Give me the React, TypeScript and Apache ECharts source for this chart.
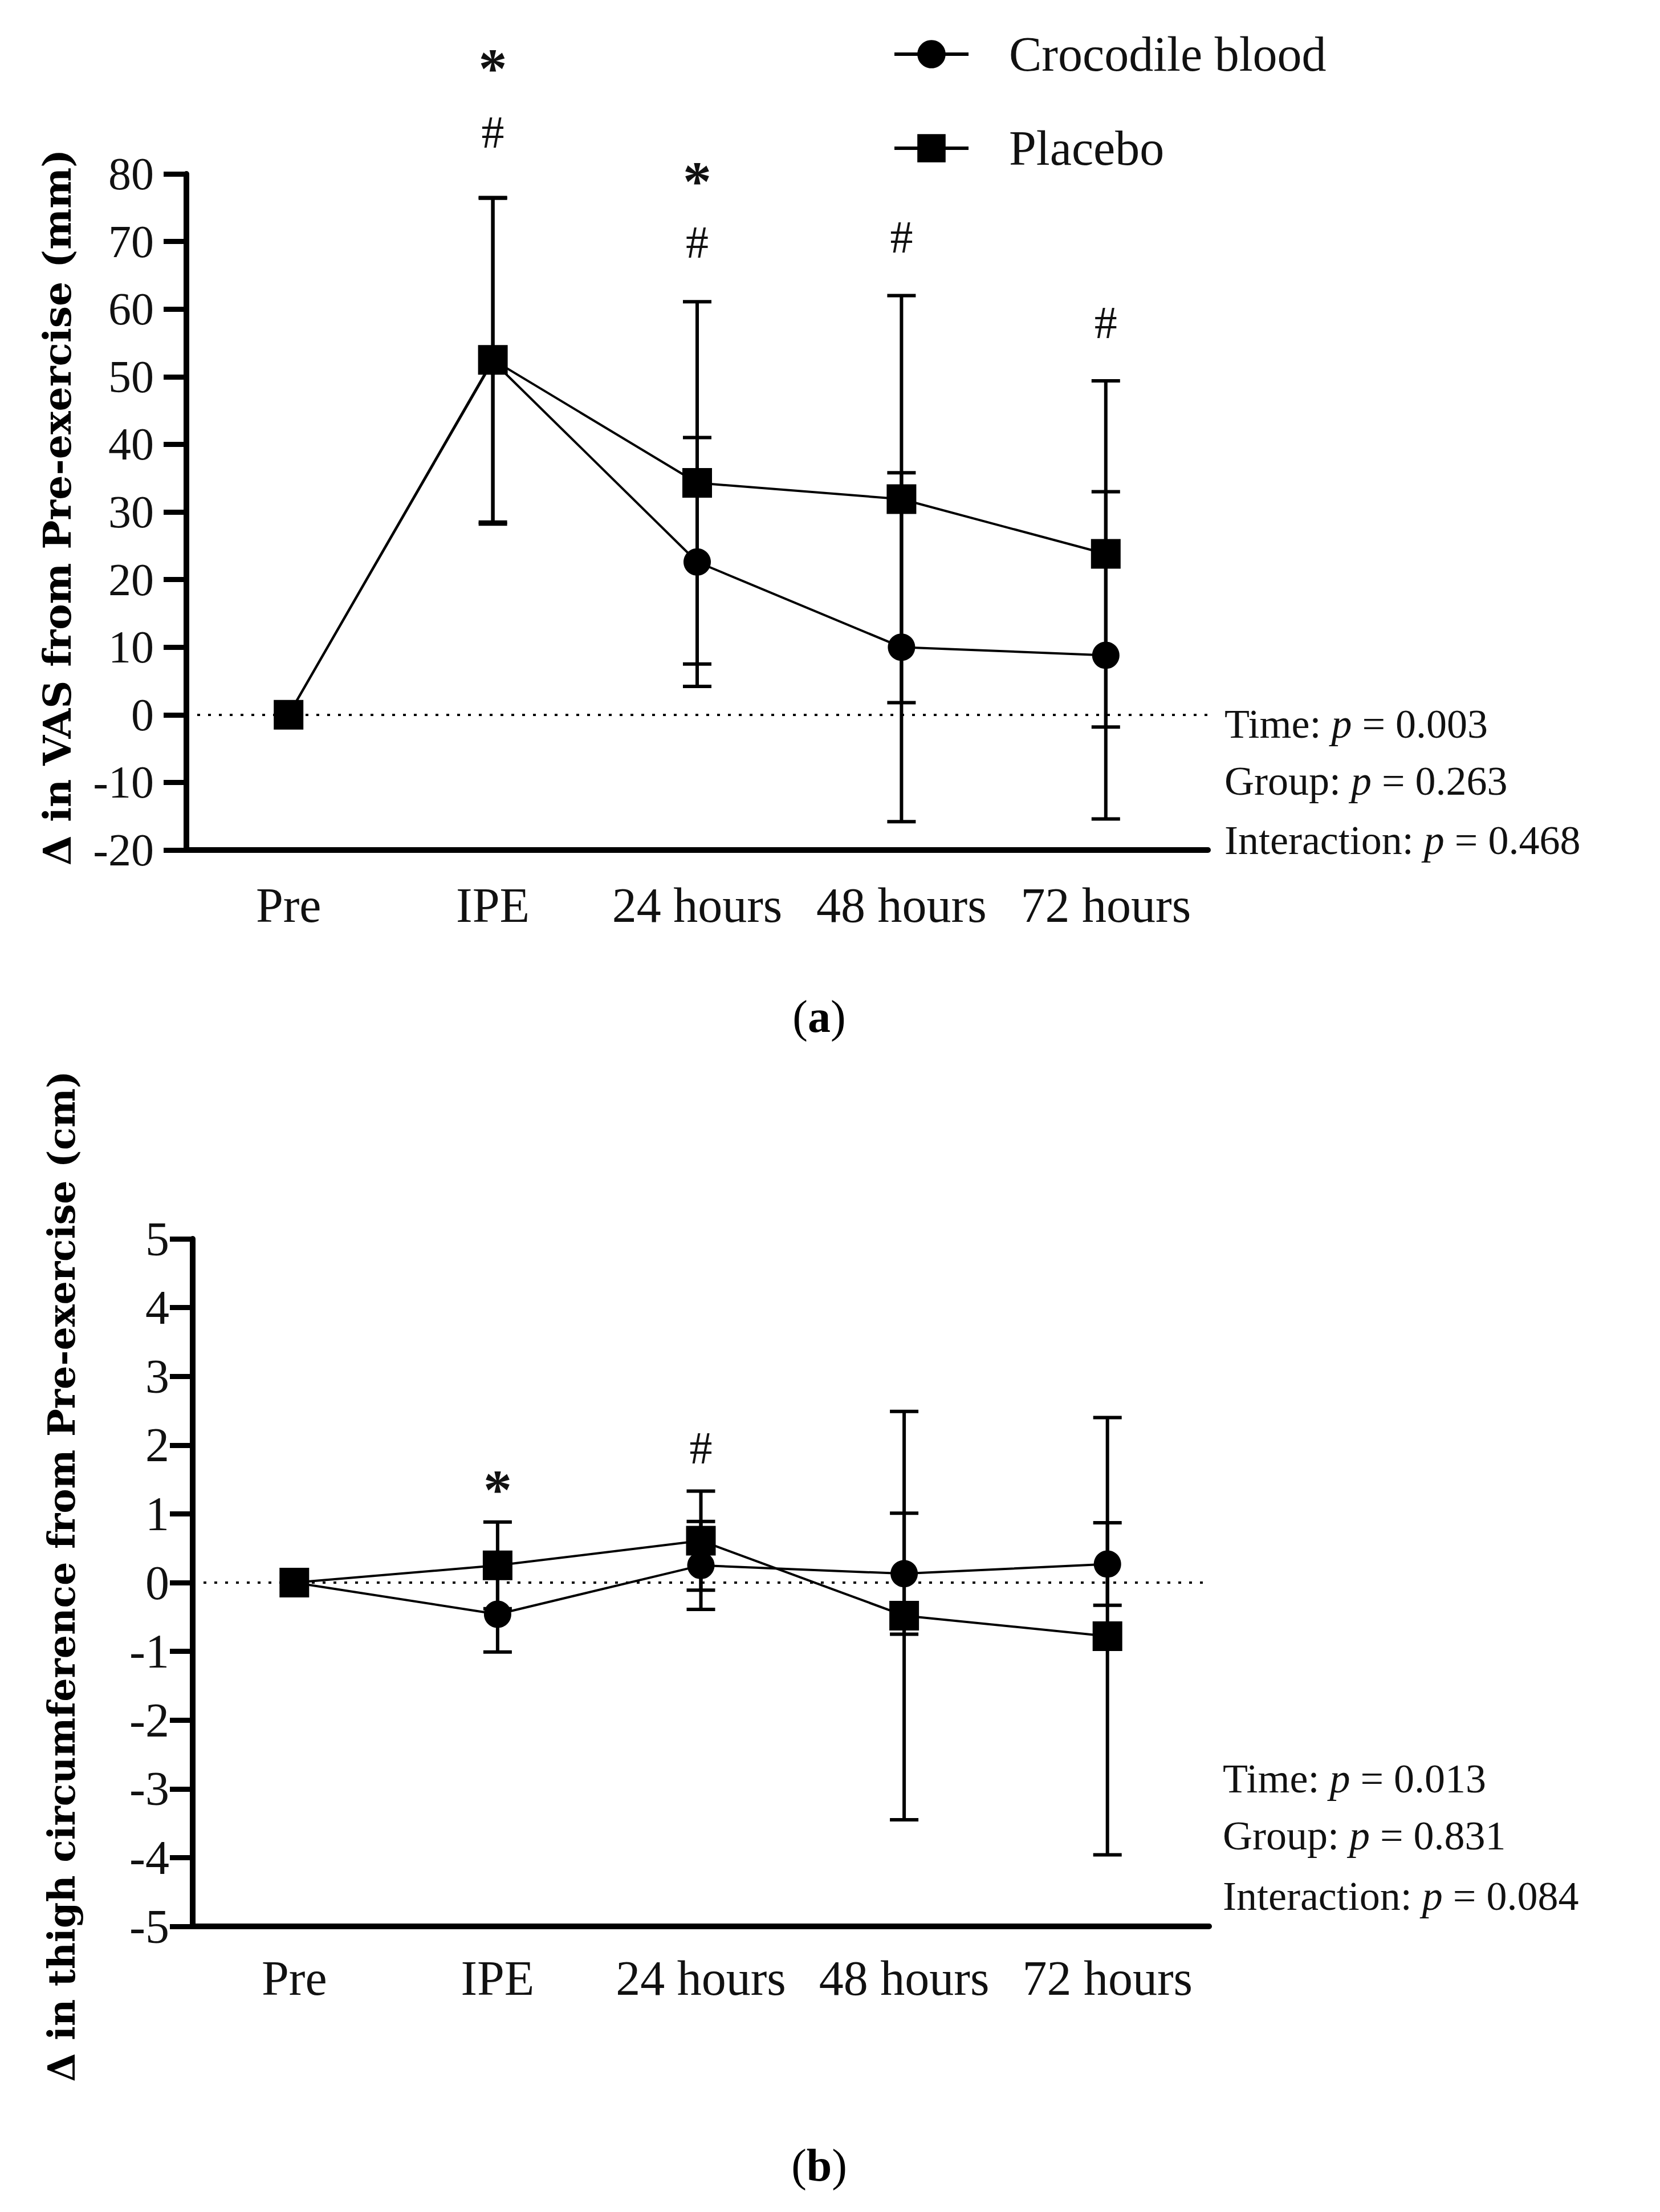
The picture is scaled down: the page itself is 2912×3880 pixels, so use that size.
import { useEffect, useRef } from "react";
import * as echarts from "echarts";

const categories = ["Pre", "IPE", "24 hours", "48 hours", "72 hours"];

// (a) VAS change from pre-exercise (mm), mean and SD
const vasCroc = [0, 52.3, 22.6, 10.0, 8.8];
const vasCrocSD = [0, 24.1, 18.4, 25.8, 24.2];
const vasPlacebo = [0, 52.5, 34.3, 31.9, 23.8];
const vasPlaceboSD = [0, 24.0, 26.8, 30.1, 25.6];
const vasTicks = { min: -20, max: 80, step: 10 };

// (b) thigh circumference change from pre-exercise (cm)
const thighCroc = [0, -0.46, 0.25, 0.13, 0.27];
const thighCrocSD = [0, 0.55, 0.64, 0.88, 0.6];
const thighPlacebo = [0, 0.25, 0.61, -0.48, -0.78];
const thighPlaceboSD = [0, 0.63, 0.72, 2.97, 3.18];
const thighTicks = { min: -5, max: 5, step: 1 };

const statsA = [
  ["Time", "0.003"],
  ["Group", "0.263"],
  ["Interaction", "0.468"],
];
const statsB = [
  ["Time", "0.013"],
  ["Group", "0.831"],
  ["Interaction", "0.084"],
];

// significance marks: [category index, symbol]
const marksA: [number, string][] = [[1, "*"], [1, "#"], [2, "*"], [2, "#"], [3, "#"], [4, "#"]];
const marksB: [number, string][] = [[1, "*"], [2, "#"]];

const SERIF = "'Liberation Serif', 'Times New Roman', serif";
const TITLE_FONT = "'DejaVu Serif', serif";
const INK = "#111";

const markYA = [103, 232, 301, 425, 416, 566];
const markYB = [2596, 2540];

function errData(mean: number[], sd: number[]) {
  return mean.map((m, i) => [i, m - sd[i], m + sd[i]]);
}

const errorBar = (params: any, api: any) => {
  const x = api.value(0);
  const lo = api.coord([x, api.value(1)]);
  const hi = api.coord([x, api.value(2)]);
  const hw = 25;
  const style = { stroke: "#000", lineWidth: 6 };
  return {
    type: "group",
    children: [
      { type: "line", shape: { x1: lo[0], y1: lo[1], x2: hi[0], y2: hi[1] }, style },
      { type: "line", shape: { x1: lo[0] - hw, y1: lo[1], x2: lo[0] + hw, y2: lo[1] }, style },
      { type: "line", shape: { x1: hi[0] - hw, y1: hi[1], x2: hi[0] + hw, y2: hi[1] }, style },
    ],
  };
};

const zeroLine = {
  silent: true,
  symbol: "none",
  label: { show: false },
  lineStyle: { type: [5, 14], width: 4, color: "#000" },
  data: [{ yAxis: 0 }],
};

function xAxis(grid: number, margin: number) {
  return {
    type: "category",
    gridIndex: grid,
    data: categories,
    boundaryGap: true,
    axisLine: { onZero: false, lineStyle: { color: "#000", width: 10 } },
    axisTick: { alignWithLabel: true, length: 36, lineStyle: { color: "#000", width: 9 } },
    axisLabel: { interval: 0, margin, fontFamily: SERIF, fontSize: 86, color: INK },
  };
}

function yAxis(grid: number, t: { min: number; max: number; step: number }, margin: number, size: number) {
  return {
    type: "value",
    gridIndex: grid,
    min: t.min,
    max: t.max,
    interval: t.step,
    axisLine: { show: true, onZero: false, lineStyle: { color: "#000", width: 10 } },
    axisTick: { show: true, length: 40, lineStyle: { color: "#000", width: 9 } },
    splitLine: { show: false },
    axisLabel: { margin, fontFamily: SERIF, fontSize: size, color: INK },
  };
}

function lineSeries(name: string, grid: number, data: number[], symbol: string, size: number, z: number, extra = {}) {
  return {
    name,
    type: "line",
    xAxisIndex: grid,
    yAxisIndex: grid,
    data,
    symbol,
    symbolSize: size,
    lineStyle: { color: "#000", width: 4 },
    itemStyle: { color: "#000" },
    emphasis: { disabled: true },
    z,
    ...extra,
  };
}

function statTexts(rows: string[][], x: number, ys: number[]) {
  return rows.map(([k, v], i) => ({
    type: "text",
    x,
    y: ys[i],
    style: {
      text: `{n|${k}: }{i|p}{n| = ${v}}`,
      verticalAlign: "middle",
      align: "left",
      rich: {
        n: { fontFamily: SERIF, fontSize: 72, fill: INK },
        i: { fontFamily: SERIF, fontSize: 72, fontStyle: "italic", fill: INK },
      },
    },
  }));
}

function caption(letter: string, x: number, y: number) {
  return {
    type: "text",
    x,
    y,
    style: {
      text: `{n|(}{b|${letter}}{n|)}`,
      align: "center",
      verticalAlign: "middle",
      rich: {
        n: { fontFamily: SERIF, fontSize: 80, fill: "#000" },
        b: { fontFamily: SERIF, fontSize: 80, fontWeight: "bold", fill: "#000" },
      },
    },
  };
}

function axisTitle(text: string, x: number, y: number, size: number) {
  return {
    type: "text",
    x,
    y,
    rotation: Math.PI / 2,
    style: {
      text,
      align: "center",
      verticalAlign: "middle",
      fontFamily: TITLE_FONT,
      fontWeight: "bold",
      fontSize: size,
      fill: "#000",
    },
  };
}

export default function App() {
  const ref = useRef<HTMLDivElement>(null);
  useEffect(() => {
    if (!ref.current) return;
    const chart = echarts.init(ref.current, null, { renderer: "svg" });
    chart.setOption({
      animation: false,
      backgroundColor: "#fff",
      grid: [
        { left: 327, top: 305, width: 1792, height: 1186 },
        { left: 338, top: 2173, width: 1783, height: 1206 },
      ],
      legend: {
        orient: "vertical",
        left: 1561,
        top: 45,
        itemWidth: 130,
        itemHeight: 62,
        itemGap: 75,
        selectedMode: false,
        data: ["Crocodile blood", "Placebo"],
        lineStyle: { width: 6 },
        textStyle: { fontFamily: SERIF, fontSize: 86, color: INK, lineHeight: 90, padding: [0, 0, 0, 66] },
      },
      xAxis: [xAxis(0, 54), xAxis(1, 48)],
      yAxis: [yAxis(0, vasTicks, 57, 80), yAxis(1, thighTicks, 41, 84)],
      series: [
        {
          type: "custom",
          xAxisIndex: 0,
          yAxisIndex: 0,
          renderItem: errorBar,
          encode: { x: 0, y: [1, 2] },
          data: errData(vasCroc, vasCrocSD),
          z: 2,
          silent: true,
        },
        {
          type: "custom",
          xAxisIndex: 0,
          yAxisIndex: 0,
          renderItem: errorBar,
          encode: { x: 0, y: [1, 2] },
          data: errData(vasPlacebo, vasPlaceboSD),
          z: 2,
          silent: true,
        },
        lineSeries("Crocodile blood", 0, vasCroc, "circle", 48, 3, { markLine: zeroLine }),
        lineSeries("Placebo", 0, vasPlacebo, "rect", 52, 4),
        {
          type: "custom",
          xAxisIndex: 1,
          yAxisIndex: 1,
          renderItem: errorBar,
          encode: { x: 0, y: [1, 2] },
          data: errData(thighCroc, thighCrocSD),
          z: 2,
          silent: true,
        },
        {
          type: "custom",
          xAxisIndex: 1,
          yAxisIndex: 1,
          renderItem: errorBar,
          encode: { x: 0, y: [1, 2] },
          data: errData(thighPlacebo, thighPlaceboSD),
          z: 2,
          silent: true,
        },
        lineSeries("Crocodile blood", 1, thighCroc, "circle", 48, 3, { markLine: zeroLine }),
        lineSeries("Placebo", 1, thighPlacebo, "rect", 52, 4),
      ],
    });

    const markText = (grid: number, marks: [number, string][], ys: number[]) =>
      marks.map(([c, s], i) => {
        const x = chart.convertToPixel({ xAxisIndex: grid }, categories[c]) as number;
        const star = s === "*";
        return {
          type: "text",
          x,
          y: ys[i] + (star ? 16 : 0),
          style: {
            text: s,
            align: "center",
            verticalAlign: "middle",
            fontFamily: SERIF,
            fontSize: star ? 100 : 80,
            fontWeight: star ? "bold" : "normal",
            fill: INK,
          },
        };
      });

    chart.setOption({
      graphic: [
        axisTitle("Δ in VAS from Pre-exercise (mm)", 100, 890, 68),
        axisTitle("Δ in thigh circumference from Pre-exercise (cm)", 108, 2765, 65),
        ...statTexts(statsA, 2148, [1270, 1370, 1474]),
        ...statTexts(statsB, 2145, [3120, 3220, 3326]),
        caption("a", 1437, 1783),
        caption("b", 1437, 3798),
        ...markText(0, marksA, markYA),
        ...markText(1, marksB, markYB),
      ],
    });

    return () => chart.dispose();
  }, []);
  return (
    <div
      ref={ref}
      style={{ position: "absolute", left: 0, top: 0, width: 2912, height: 3880, background: "#fff" }}
    />
  );
}
